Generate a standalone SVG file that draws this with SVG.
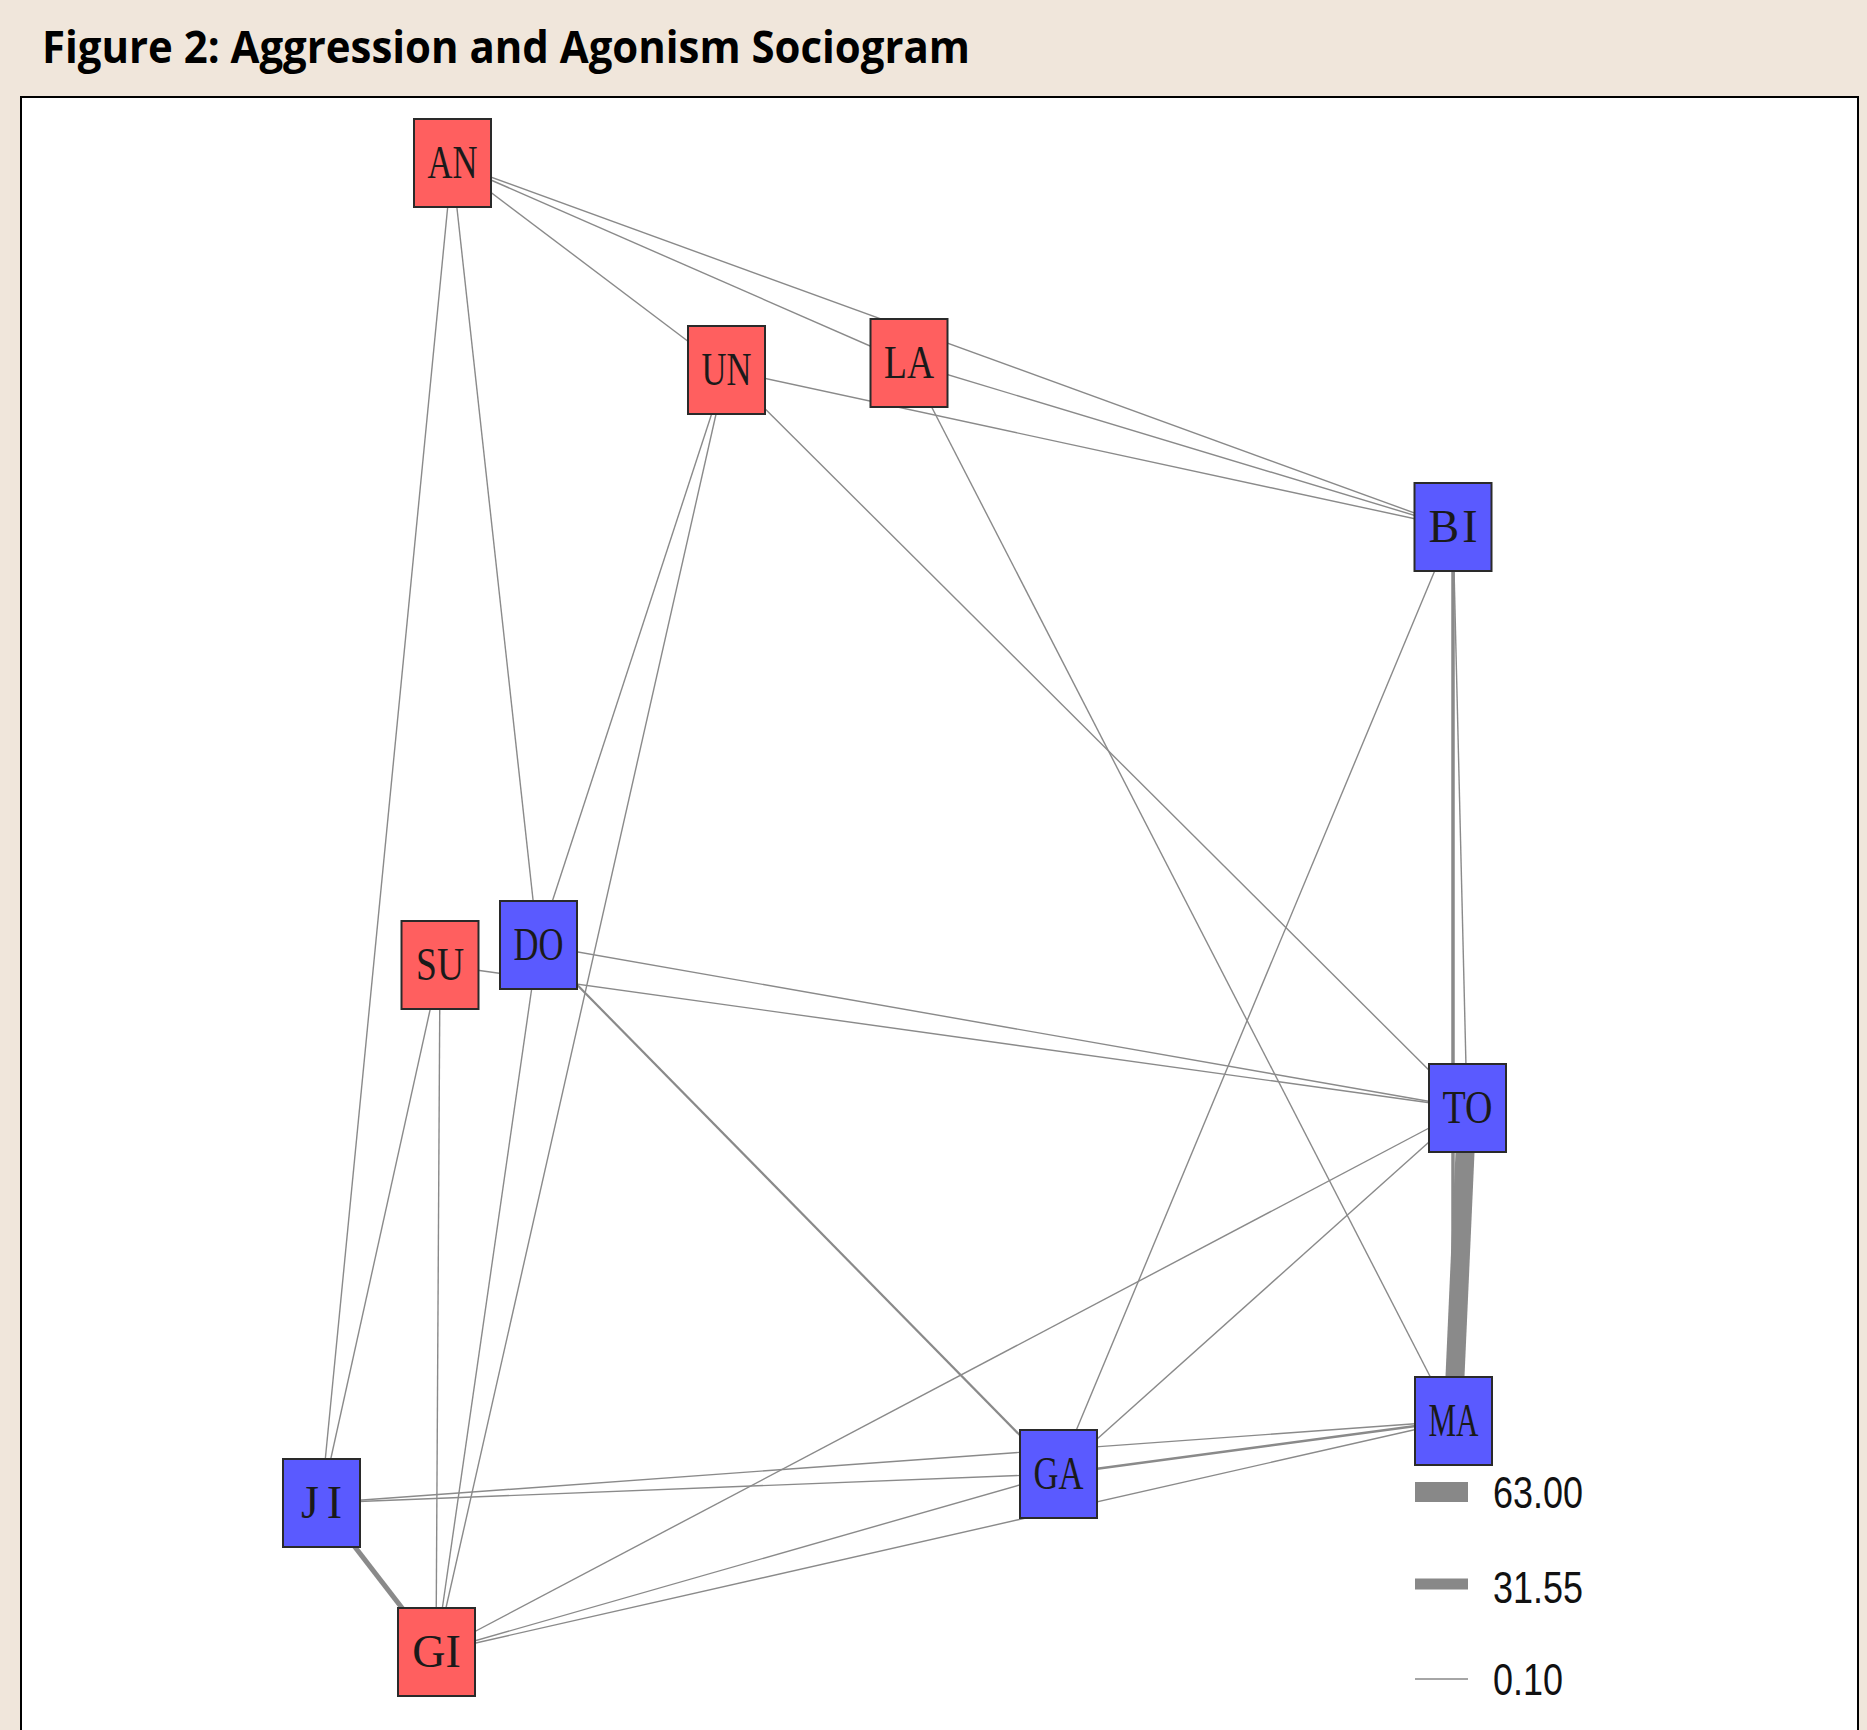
<svg xmlns="http://www.w3.org/2000/svg" width="1867" height="1730" viewBox="0 0 1867 1730">
<style>
.e{stroke:#8a8a8a;stroke-width:1.4;fill:none}
.r rect{fill:#FF5F5F;stroke:#2a2a2a;stroke-width:2}
.b rect{fill:#5A5AFF;stroke:#2a2a2a;stroke-width:2}
.n text{font-family:"Liberation Serif",serif;font-size:46px;fill:#1a1a1a;text-anchor:middle}
.lg text{font-family:"Liberation Sans",Arial,sans-serif;font-size:44px;fill:#111}
</style>
<rect x="0" y="0" width="1867" height="1730" fill="#F0E6DB"/>
<text x="42" y="63" font-family="'Open Sans','Liberation Sans',sans-serif" font-weight="bold" font-size="45" textLength="928" lengthAdjust="spacingAndGlyphs" fill="#000">Figure 2: Aggression and Agonism Sociogram</text>
<rect x="21" y="97" width="1837" height="1700" fill="#fff" stroke="#000" stroke-width="2"/>
<g id="connectors">
<line class="e" x1="452" y1="163" x2="1453" y2="527"/>
<line class="e" x1="452" y1="163" x2="909" y2="363"/>
<line class="e" x1="452" y1="163" x2="726" y2="370"/>
<line class="e" x1="452" y1="163" x2="321" y2="1503"/>
<line class="e" x1="452" y1="163" x2="538" y2="945"/>
<line class="e" x1="726" y1="370" x2="1453" y2="527"/>
<line class="e" x1="726" y1="370" x2="1467" y2="1108"/>
<line class="e" x1="726" y1="370" x2="538" y2="945"/>
<line class="e" x1="726" y1="370" x2="436" y2="1652"/>
<line class="e" x1="909" y1="363" x2="1453" y2="527"/>
<line class="e" x1="909" y1="363" x2="1453" y2="1421"/>
<line class="e" x1="1453" y1="527" x2="1058" y2="1474"/>
<line class="e" x1="1453" y1="527" x2="1453" y2="1421" style="stroke-width:3.5"/>
<line class="e" x1="1453" y1="527" x2="1467" y2="1108"/>
<line class="e" x1="538" y1="945" x2="1467" y2="1108"/>
<line class="e" x1="538" y1="945" x2="1058" y2="1474" style="stroke-width:2.2"/>
<line class="e" x1="538" y1="945" x2="436" y2="1652"/>
<line class="e" x1="440" y1="965" x2="1467" y2="1108"/>
<line class="e" x1="440" y1="965" x2="321" y2="1503"/>
<line class="e" x1="440" y1="965" x2="436" y2="1652"/>
<line class="e" x1="321" y1="1503" x2="436" y2="1652" style="stroke-width:5"/>
<line class="e" x1="321" y1="1503" x2="1058" y2="1474"/>
<line class="e" x1="321" y1="1503" x2="1453" y2="1421"/>
<line class="e" x1="436" y1="1652" x2="1058" y2="1474"/>
<line class="e" x1="436" y1="1652" x2="1453" y2="1421"/>
<line class="e" x1="436" y1="1652" x2="1467" y2="1108"/>
<line class="e" x1="1058" y1="1474" x2="1467" y2="1108"/>
<line class="e" x1="1058" y1="1474" x2="1453" y2="1421" style="stroke-width:2.6"/>
<line class="e" x1="1467" y1="1108" x2="1453" y2="1421" style="stroke-width:19"/>
</g>
<g id="AN" class="n r"><rect x="414" y="119" width="77" height="88"/><text x="452.5" y="178" textLength="50" lengthAdjust="spacingAndGlyphs">AN</text></g>
<g id="UN" class="n r"><rect x="688" y="326" width="77" height="88"/><text x="726.5" y="385" textLength="50" lengthAdjust="spacingAndGlyphs">UN</text></g>
<g id="LA" class="n r"><rect x="870.5" y="319" width="77" height="88"/><text x="909" y="378" textLength="50" lengthAdjust="spacingAndGlyphs">LA</text></g>
<g id="BI" class="n b"><rect x="1414.5" y="483" width="77" height="88"/><text x="1454.5" y="542" letter-spacing="3">BI</text></g>
<g id="SU" class="n r"><rect x="401.5" y="921" width="77" height="88"/><text x="440" y="980" textLength="48" lengthAdjust="spacingAndGlyphs">SU</text></g>
<g id="DO" class="n b"><rect x="500" y="901" width="77" height="88"/><text x="538.5" y="960" textLength="50" lengthAdjust="spacingAndGlyphs">DO</text></g>
<g id="TO" class="n b"><rect x="1429" y="1064" width="77" height="88"/><text x="1467.5" y="1123" textLength="50" lengthAdjust="spacingAndGlyphs">TO</text></g>
<g id="MA" class="n b"><rect x="1415" y="1377" width="77" height="88"/><text x="1453.5" y="1436" textLength="50" lengthAdjust="spacingAndGlyphs">MA</text></g>
<g id="GA" class="n b"><rect x="1020" y="1430" width="77" height="88"/><text x="1058.5" y="1489" textLength="50" lengthAdjust="spacingAndGlyphs">GA</text></g>
<g id="JI" class="n b"><rect x="283" y="1459" width="77" height="88"/><text x="325.5" y="1518" letter-spacing="8">JI</text></g>
<g id="GI" class="n r"><rect x="398" y="1608" width="77" height="88"/><text x="436.5" y="1667">GI</text></g>
<g id="legend" class="lg">
<rect x="1415" y="1482" width="53" height="20" fill="#888"/>
<text x="1493" y="1508" textLength="90" lengthAdjust="spacingAndGlyphs">63.00</text>
<rect x="1415" y="1578.5" width="53" height="11" fill="#888"/>
<text x="1493" y="1603" textLength="90" lengthAdjust="spacingAndGlyphs">31.55</text>
<line x1="1415" y1="1679" x2="1468" y2="1679" stroke="#888" stroke-width="1.5"/>
<text x="1493" y="1695" textLength="70" lengthAdjust="spacingAndGlyphs">0.10</text>
</g>
</svg>
